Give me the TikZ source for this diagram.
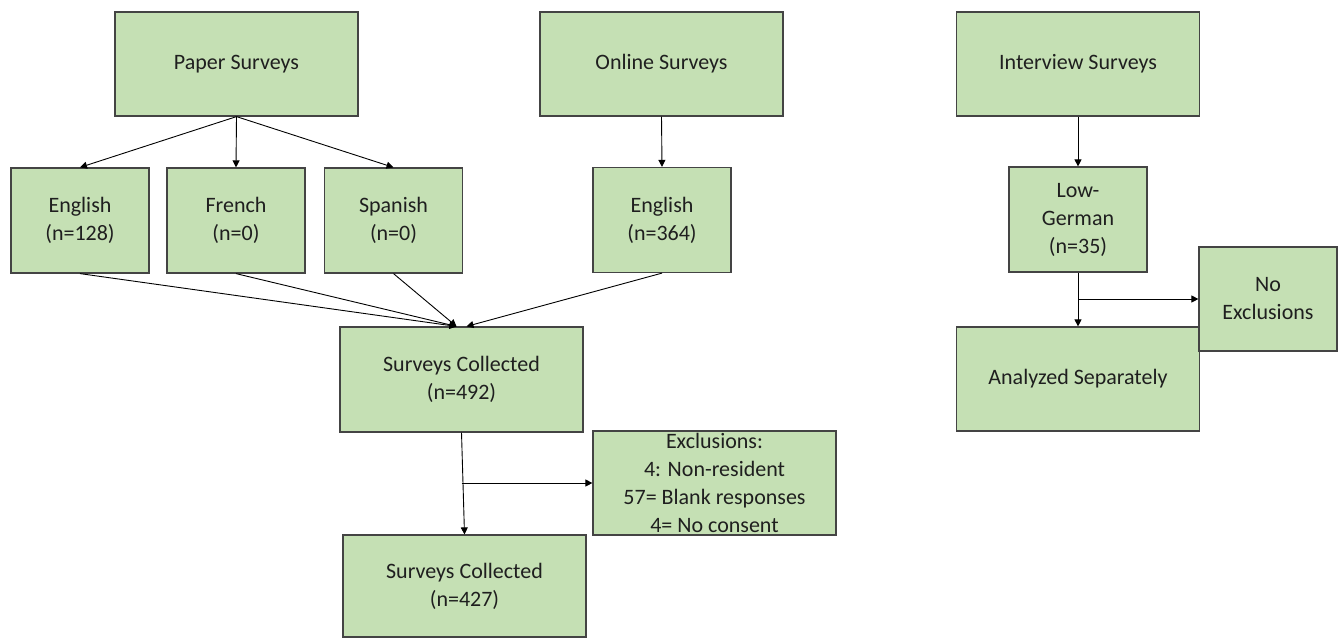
\documentclass[tikz,border=0pt]{standalone}
\usepackage{fontspec}
\setmainfont{Carlito}
\usepackage{tikz}
\usetikzlibrary{arrows.meta}
\definecolor{boxfill}{HTML}{C5E0B4}
\definecolor{boxline}{HTML}{444444}
\definecolor{textgray}{HTML}{1F1F1F}

\begin{document}
\begin{tikzpicture}[x=1pt,y=-1pt,
  box/.style={shape=rectangle,draw=boxline,fill=boxfill,line width=1.2pt,text=textgray,
    align=center,inner sep=0pt,font=\fontsize{22}{28}\selectfont},
  wide/.style={box,minimum width=243pt,minimum height=104pt},
  narrow/.style={box,minimum width=138pt,minimum height=105pt},
  every edge/.style={draw,line width=0.9pt,-{Triangle[length=7pt,width=7pt]}}]
\useasboundingbox (0,0) rectangle (1343,638);
\node[wide] (P) at (236.5,64) {Paper Surveys};
\node[wide] (O) at (661.5,64) {Online Surveys};
\node[wide] (I) at (1078,64) {Interview Surveys};
\node[narrow] (E) at (80,220.5) {English\\(n=128)};
\node[narrow] (F) at (236,220.5) {French\\(n=0)};
\node[narrow] (S) at (393.5,220.5) {Spanish\\(n=0)};
\node[narrow] (OE) at (662,220) {English\\(n=364)};
\node[narrow] (L) at (1078,219.5) {Low-\\German\\(n=35)};
\node[wide,minimum height=105pt] (C) at (461.5,379.5) {Surveys Collected\\(n=492)};
\node[wide] (X) at (714.5,483) {Exclusions:\\4: Non-resident\\57= Blank responses\\4= No consent};
\node[wide,minimum height=102pt] (T) at (464.5,586) {Surveys Collected\\(n=427)};
\node[wide] (A) at (1078,379) {Analyzed Separately};
\node[narrow,minimum height=104pt] (N) at (1268,299) {No\\Exclusions};
\coordinate (CX) at (C.south |- X.west);
\coordinate (LN) at (L.south |- N.west);
\path (P.south) edge (E.north);
\path (P.south) edge (F.north);
\path (P.south) edge (S.north);
\path (O.south) edge (OE.north);
\path (I.south) edge (L.north);
\path (E.south) edge ([xshift=-5pt]C.north);
\path (F.south) edge ([xshift=-5pt]C.north);
\path (S.south) edge ([xshift=-5pt]C.north);
\path (OE.south) edge ([xshift=5pt]C.north);
\path (C.south) edge (T.north);
\path (CX) edge (X.west);
\path (L.south) edge (A.north);
\path (LN) edge (N.west);
\end{tikzpicture}
\end{document}
